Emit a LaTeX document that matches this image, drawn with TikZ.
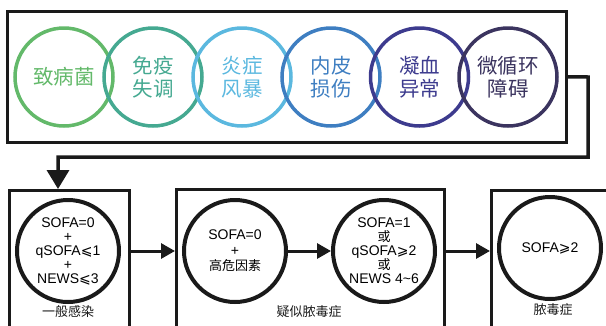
\documentclass[tikz,border=0pt]{standalone}
\usepackage{fontspec}
\setmainfont{Liberation Sans}
\newfontfamily\cjk{Noto Sans CJK SC}
\newfontfamily\symf{DejaVu Sans}
\usetikzlibrary{arrows.meta}
\definecolor{cA}{HTML}{63B96A}
\definecolor{cB}{HTML}{45A991}
\definecolor{cC}{HTML}{5BB8DF}
\definecolor{cD}{HTML}{3E7EC1}
\definecolor{cE}{HTML}{3D3B8E}
\definecolor{cF}{HTML}{3B345F}
\definecolor{ink}{HTML}{1A1A1A}
\tikzset{
  topc/.style={circle, line width=3.5pt, minimum size=98pt, inner sep=0pt, align=center,
    font=\cjk\fontsize{20.5}{23}\selectfont},
  botc/.style={circle, draw=ink, line width=4pt, minimum size=102pt, inner sep=0pt, align=center,
    font=\fontsize{14}{14}\selectfont},
  bbox/.style={draw=ink, line width=3pt, inner sep=0pt, anchor=north west},
  lbl/.style={font=\cjk\fontsize{13}{15}\selectfont, text=ink, inner sep=0pt},
  arr/.style={draw=ink, line width=3pt, -{Triangle[length=14pt,width=15pt]}},
  conn/.style={draw=ink, line width=3.5pt, line join=miter, -{Triangle[length=19pt,width=22pt]}}
}
\begin{document}
\begin{tikzpicture}[x=1pt,y=-1pt]
\useasboundingbox (0,0) rectangle (606,325);
\clip (0,0) rectangle (606,325);
% top box
\node[draw=ink, line width=3pt, minimum width=559pt, minimum height=130.5pt, inner sep=0pt] (top) at (286.5,76.75) {};
\node[topc, draw=cA, text=cA] (t1) at (64,77) {致病菌};
\node[topc, draw=cB, text=cB] (t2) at (153,77) {免疫\\失调};
\node[topc, draw=cC, text=cC] (t3) at (242,77) {炎症\\风暴};
\node[topc, draw=cD, text=cD] (t4) at (331,77) {内皮\\损伤};
\node[topc, draw=cE, text=cE] (t5) at (419.5,77) {凝血\\异常};
\node[topc, draw=cF, text=cF] (t6) at (508,77) {微循环\\障碍};
% bottom boxes
\node[bbox, minimum width=120pt, minimum height=160pt] (b1) at (8,189) {};
\node[bbox, minimum width=268pt, minimum height=160pt] (b2) at (175,188) {};
\node[bbox, minimum width=160pt, minimum height=160pt] (b3) at (490,189) {};
% bottom circles
\node[botc] (c1) at (68,251) {SOFA=0\\+\\qSOFA{\symf ⩽}1\\+\\NEWS{\symf ⩽}3};
\node[botc, font=\fontsize{14}{15.5}\selectfont] (c2) at (235,251) {SOFA=0\\+\\{\cjk\fontsize{13}{15.5}\selectfont 高危因素}};
\node[botc] (c3) at (384,251) {SOFA=1\\{\cjk\fontsize{13}{14}\selectfont 或}\\qSOFA{\symf ⩾}2\\{\cjk\fontsize{13}{14}\selectfont 或}\\NEWS 4\textasciitilde 6};
\node[botc] (c4) at (550,248) {SOFA{\symf ⩾}2};
% labels
\node[lbl] (l1) at (68,312) {一般感染};
\node[lbl] (l2) at (309,312) {疑似脓毒症};
\node[lbl] (l3) at (553,310) {脓毒症};
% arrows
\draw[arr] (b1.east |- c1) -- (b2.west |- c1);
\draw[arr] (c2.east) -- (c3.west);
\draw[arr] (b2.east |- c3) -- (b3.west |- c3);
% connector
\coordinate (k1) at (588,77);
\coordinate (k2) at (58,157);
\draw[conn] (top.east) -- (k1) |- (k2) -- (k2 |- b1.north);
\end{tikzpicture}
\end{document}
